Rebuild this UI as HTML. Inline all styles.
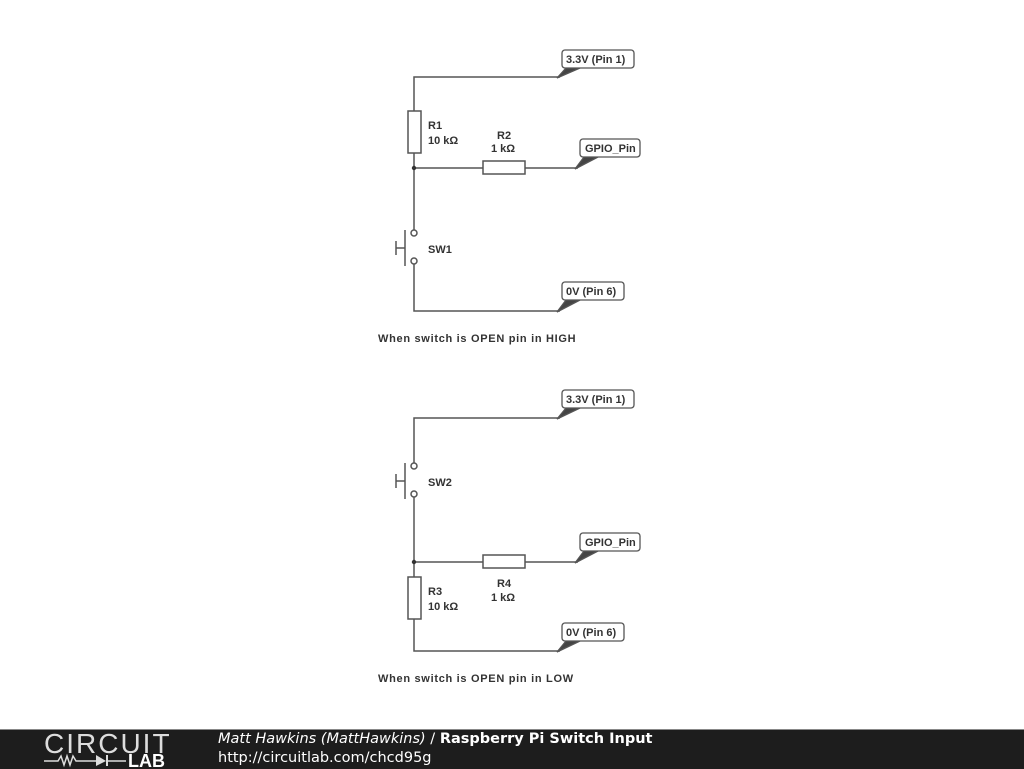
<!DOCTYPE html>
<html><head><meta charset="utf-8"><style>
body{margin:0;background:#fff;width:1024px;height:768px;overflow:hidden;position:relative;font-family:"Liberation Sans",sans-serif}
.ft{position:absolute;left:0;top:729px;width:1024px;height:39px;background:#1d1d1d;border-top:1px solid #888}
</style></head><body>
<svg width="1024" height="729" style="position:absolute;left:0;top:0" font-family="Liberation Sans, DejaVu Sans, sans-serif" font-weight="bold" font-size="11" fill="#333">
<g stroke="#555" stroke-width="1.5" fill="none">
<polyline points="560,77 414,77 414,111"/>
<rect x="408" y="111" width="13" height="42" fill="#fff"/>
<line x1="414" y1="153" x2="414" y2="230"/>
<line x1="414" y1="168" x2="483" y2="168"/>
<rect x="483" y="161" width="42" height="13" fill="#fff"/>
<line x1="525" y1="168" x2="578" y2="168"/>
<circle cx="414" cy="233" r="3" fill="#fff"/>
<circle cx="414" cy="261" r="3" fill="#fff"/>
<line x1="405" y1="230" x2="405" y2="266"/>
<line x1="396" y1="248" x2="405" y2="248"/>
<line x1="396" y1="241" x2="396" y2="255"/>
<polyline points="414,264 414,311 560,311"/>
<polyline points="560,418 414,418 414,463"/>
<circle cx="414" cy="466" r="3" fill="#fff"/>
<circle cx="414" cy="494" r="3" fill="#fff"/>
<line x1="405" y1="463" x2="405" y2="499"/>
<line x1="396" y1="481" x2="405" y2="481"/>
<line x1="396" y1="474" x2="396" y2="488"/>
<line x1="414" y1="497" x2="414" y2="577"/>
<line x1="414" y1="562" x2="483" y2="562"/>
<rect x="483" y="555" width="42" height="13" fill="#fff"/>
<line x1="525" y1="562" x2="578" y2="562"/>
<rect x="408" y="577" width="13" height="42" fill="#fff"/>
<polyline points="414,619 414,651 560,651"/>
</g>
<circle cx="414" cy="168" r="2.2" fill="#333"/>
<circle cx="414" cy="562" r="2.2" fill="#333"/>
<g stroke="#555" stroke-width="1.3">
<polygon points="557,78 566,68 580,68" fill="#444"/>
<rect x="562" y="50" width="72" height="18" rx="3" fill="#fff"/>
<polygon points="575,169 584,157 598,157" fill="#444"/>
<rect x="580" y="139" width="60" height="18" rx="3" fill="#fff"/>
<polygon points="557,312 566,300 580,300" fill="#444"/>
<rect x="562" y="282" width="62" height="18" rx="3" fill="#fff"/>
<polygon points="557,419 566,408 580,408" fill="#444"/>
<rect x="562" y="390" width="72" height="18" rx="3" fill="#fff"/>
<polygon points="575,563 584,551 598,551" fill="#444"/>
<rect x="580" y="533" width="60" height="18" rx="3" fill="#fff"/>
<polygon points="557,652 566,641 580,641" fill="#444"/>
<rect x="562" y="623" width="62" height="18" rx="3" fill="#fff"/>
</g>
<text x="566" y="63">3.3V (Pin 1)</text>
<text x="585" y="152">GPIO_Pin</text>
<text x="566" y="295">0V (Pin 6)</text>
<text x="566" y="403">3.3V (Pin 1)</text>
<text x="585" y="546">GPIO_Pin</text>
<text x="566" y="636">0V (Pin 6)</text>
<text x="428" y="129">R1</text><text x="428" y="144">10 kΩ</text>
<text x="497" y="139">R2</text><text x="491" y="152">1 kΩ</text>
<text x="428" y="253">SW1</text>
<text x="428" y="486">SW2</text>
<text x="497" y="587">R4</text><text x="491" y="601">1 kΩ</text>
<text x="428" y="595">R3</text><text x="428" y="610">10 kΩ</text>
<text x="378" y="342" letter-spacing="0.7">When switch is OPEN pin in HIGH</text>
<text x="378" y="682" letter-spacing="0.7">When switch is OPEN pin in LOW</text>
</svg>
<div class="ft">
<div style="position:absolute;left:44px;top:0px;color:#ddd;font-size:28px;letter-spacing:2px;font-weight:300;line-height:28px">CIRCUIT</div>
<svg width="140" height="16" style="position:absolute;left:44px;top:22px">
<polyline points="0,9 14,9 17,4 20,13 23,4 26,13 29,4 32,9 52,9" stroke="#ddd" stroke-width="1.5" fill="none"/>
<polygon points="52,3 52,14 62,9" fill="#ddd"/><line x1="63" y1="3" x2="63" y2="14" stroke="#ddd" stroke-width="2"/>
<line x1="63" y1="9" x2="82" y2="9" stroke="#ddd" stroke-width="1.5"/>
<text x="84" y="15" fill="#fff" font-family="Liberation Sans" font-weight="bold" font-size="18">LAB</text>
</svg>
<div style="position:absolute;left:218px;top:1px;color:#fff;font-size:14.5px;font-family:'DejaVu Sans',sans-serif"><i>Matt Hawkins (MattHawkins)</i> / <b>Raspberry Pi Switch Input</b></div>
<div style="position:absolute;left:218px;top:20px;color:#fff;font-size:14.5px;font-family:'DejaVu Sans',sans-serif">http://circuitlab.com/chcd95g</div>
</div>
</body></html>
